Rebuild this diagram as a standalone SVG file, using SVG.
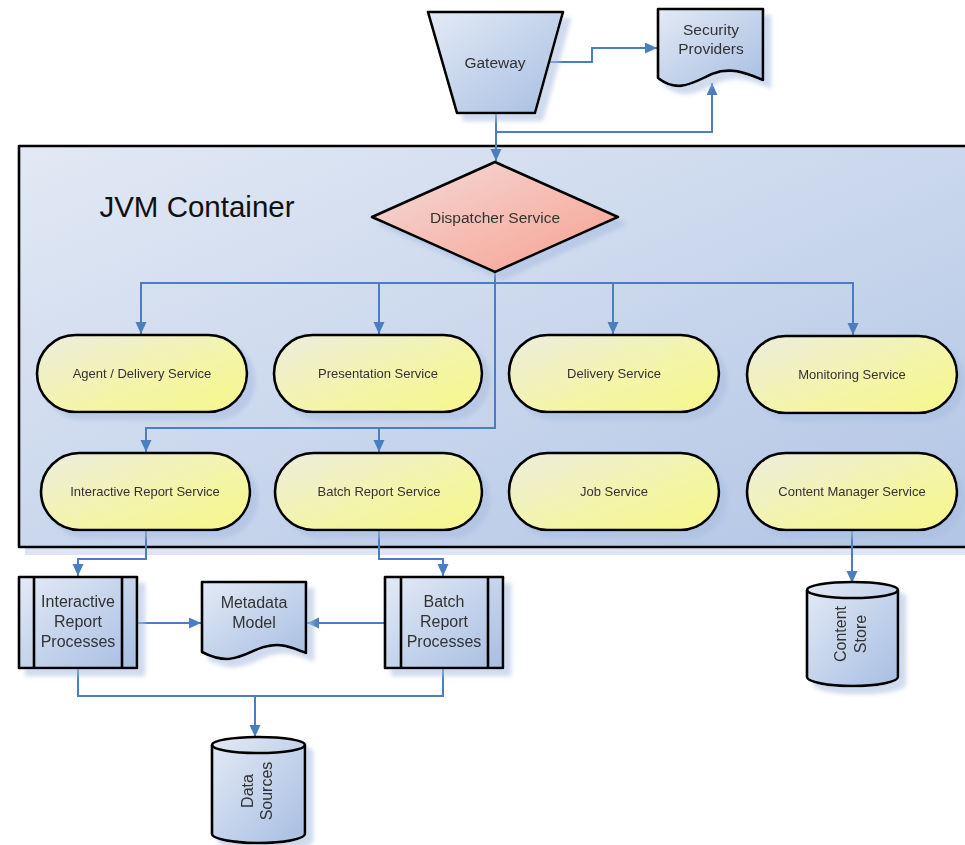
<svg xmlns="http://www.w3.org/2000/svg" width="965" height="845" viewBox="0 0 965 845">
<defs>
<linearGradient id="gCont" x1="0" y1="0" x2="1" y2="1"><stop offset="0" stop-color="#e2e9f4"/><stop offset="1" stop-color="#b2c5e5"/></linearGradient>
<linearGradient id="gBlue" x1="0" y1="0" x2="1" y2="1"><stop offset="0" stop-color="#e3eaf5"/><stop offset="1" stop-color="#a7bee2"/></linearGradient>
<linearGradient id="gYel" x1="0" y1="0" x2="1" y2="1"><stop offset="0" stop-color="#ecedde"/><stop offset="0.6" stop-color="#f4f5a6"/><stop offset="1" stop-color="#f6f78a"/></linearGradient>
<linearGradient id="gRed" x1="0" y1="0" x2="1" y2="1"><stop offset="0" stop-color="#f3dbdb"/><stop offset="1" stop-color="#f8a08e"/></linearGradient>
<filter id="sh" x="-10%" y="-10%" width="130%" height="130%">
<feGaussianBlur in="SourceAlpha" stdDeviation="2"/><feOffset dx="7" dy="7" result="o"/>
<feFlood flood-color="#a9bde0" flood-opacity="0.55"/><feComposite in2="o" operator="in"/>
<feMerge><feMergeNode/><feMergeNode in="SourceGraphic"/></feMerge>
</filter>
<marker id="ah" markerUnits="userSpaceOnUse" markerWidth="13" markerHeight="12" refX="12" refY="5.5" orient="auto"><path d="M0,0 L12,5.5 L0,11 z" fill="#4a7ebf"/></marker>
<style>
.s{stroke:#000;stroke-width:2.6;stroke-linejoin:round}
.t{font-family:"Liberation Sans",Arial,sans-serif;fill:#333;text-anchor:middle}
.c{fill:none;stroke:#4a7ebf;stroke-width:2}
.pill{fill:url(#gYel)}
.blue{fill:url(#gBlue)}
</style>
</defs>
<g id="container">
<rect x="25" y="150" width="960" height="405" fill="#c6d4ec" opacity="0.6"/>
<rect x="19" y="146" width="960" height="401" fill="url(#gCont)" class="s"/>
<text class="t" x="197" y="217" font-size="29.5" style="fill:#111">JVM Container</text>
</g>
<g id="connectors">
<path class="c" d="M547,62 H592 V48 H657" marker-end="url(#ah)"/>
<path class="c" d="M496,113 V161" marker-end="url(#ah)"/>
<path class="c" d="M496,132 H712 V83" marker-end="url(#ah)"/>
<path class="c" d="M495,273 V283 H141 V334" marker-end="url(#ah)"/>
<path class="c" d="M495,283 H379 V334" marker-end="url(#ah)"/>
<path class="c" d="M495,283 H613 V334" marker-end="url(#ah)"/>
<path class="c" d="M495,283 H853 V335" marker-end="url(#ah)"/>
<path class="c" d="M495,283 V428 H146 V452" marker-end="url(#ah)"/>
<path class="c" d="M495,428 H379 V452" marker-end="url(#ah)"/>
<path class="c" d="M146,530 V559 H78 V576" marker-end="url(#ah)"/>
<path class="c" d="M379,530 V559 H443 V576" marker-end="url(#ah)"/>
<path class="c" d="M852,530 V583" marker-end="url(#ah)"/>
<path class="c" d="M137,623 H201" marker-end="url(#ah)"/>
<path class="c" d="M385,623 H307" marker-end="url(#ah)"/>
<path class="c" d="M78,668 V696 H255 V737" marker-end="url(#ah)"/>
<path class="c" d="M443,668 V696 H255"/>
</g>
<g id="gateway" filter="url(#sh)">
<path class="s blue" d="M428,12 L563,12 L535,113 L457,113 Z"/>
<text class="t" x="495" y="68" font-size="15.5">Gateway</text>
</g>
<g id="security-providers" filter="url(#sh)">
<path class="s blue" d="M658,9 L763,9 L763,80 C748,74 732,66 712,74 C694,82 678,94 658,78 Z"/>
<text class="t" x="711" y="35" font-size="15.5">Security</text>
<text class="t" x="711" y="54" font-size="15.5">Providers</text>
</g>
<g id="dispatcher" filter="url(#sh)">
<path class="s" fill="url(#gRed)" d="M495,162 L618,217 L495,272 L372,217 Z"/>
<text class="t" x="495" y="222.5" font-size="15.5">Dispatcher Service</text>
</g>
<g id="agent-delivery" filter="url(#sh)">
<rect class="s pill" x="37" y="335" width="210" height="77" rx="38.5"/>
<text class="t" x="142" y="378" font-size="13">Agent / Delivery Service</text>
</g>
<g id="presentation" filter="url(#sh)">
<rect class="s pill" x="274" y="335" width="208" height="77" rx="38.5"/>
<text class="t" x="378" y="378" font-size="13">Presentation Service</text>
</g>
<g id="delivery" filter="url(#sh)">
<rect class="s pill" x="509" y="335" width="210" height="77" rx="38.5"/>
<text class="t" x="614" y="378" font-size="13">Delivery Service</text>
</g>
<g id="monitoring" filter="url(#sh)">
<rect class="s pill" x="747" y="336" width="210" height="77" rx="38.5"/>
<text class="t" x="852" y="379" font-size="13">Monitoring Service</text>
</g>
<g id="interactive-report" filter="url(#sh)">
<rect class="s pill" x="41" y="453" width="209" height="77" rx="38.5"/>
<text class="t" x="145" y="495.5" font-size="13">Interactive Report Service</text>
</g>
<g id="batch-report" filter="url(#sh)">
<rect class="s pill" x="275" y="453" width="207" height="77" rx="38.5"/>
<text class="t" x="379" y="495.5" font-size="13">Batch Report Service</text>
</g>
<g id="job" filter="url(#sh)">
<rect class="s pill" x="509" y="453" width="210" height="77" rx="38.5"/>
<text class="t" x="614" y="495.5" font-size="13">Job Service</text>
</g>
<g id="content-manager" filter="url(#sh)">
<rect class="s pill" x="747" y="453" width="210" height="77" rx="38.5"/>
<text class="t" x="852" y="495.5" font-size="13">Content Manager Service</text>
</g>
<g id="interactive-processes" filter="url(#sh)">
<rect class="s blue" x="19" y="577" width="118" height="91"/>
<line class="s" x1="34" y1="577" x2="34" y2="668"/>
<line class="s" x1="122" y1="577" x2="122" y2="668"/>
<text class="t" x="78" y="607" font-size="16">Interactive</text>
<text class="t" x="78" y="627" font-size="16">Report</text>
<text class="t" x="78" y="647" font-size="16">Processes</text>
</g>
<g id="metadata-model" filter="url(#sh)">
<path class="s blue" d="M202,582 L306,582 L306,653 C292,648 282,642 264,647 C246,652 232,668 202,652 Z"/>
<text class="t" x="254" y="608" font-size="16">Metadata</text>
<text class="t" x="254" y="628" font-size="16">Model</text>
</g>
<g id="batch-processes" filter="url(#sh)">
<rect class="s blue" x="385" y="577" width="118" height="91"/>
<line class="s" x1="401" y1="577" x2="401" y2="668"/>
<line class="s" x1="488" y1="577" x2="488" y2="668"/>
<text class="t" x="444" y="607" font-size="16">Batch</text>
<text class="t" x="444" y="627" font-size="16">Report</text>
<text class="t" x="444" y="647" font-size="16">Processes</text>
</g>
<g id="data-sources" filter="url(#sh)">
<path class="s blue" d="M212,745 A46.5,8 0 0 1 305,745 L305,834 A46.5,9 0 0 1 212,834 Z"/>
<path class="s" fill="none" d="M212,745 A46.5,8 0 0 0 305,745"/>
<text class="t" font-size="16" transform="translate(253,791) rotate(-90)"><tspan x="0" y="0">Data</tspan><tspan x="0" y="19">Sources</tspan></text>
</g>
<g id="content-store" filter="url(#sh)">
<path class="s blue" d="M807,590 A45.5,8 0 0 1 898,590 L898,677 A45.5,9 0 0 1 807,677 Z"/>
<path class="s" fill="none" d="M807,590 A45.5,8 0 0 0 898,590"/>
<text class="t" font-size="16" transform="translate(846,634) rotate(-90)"><tspan x="0" y="0">Content</tspan><tspan x="0" y="20">Store</tspan></text>
</g>
</svg>
